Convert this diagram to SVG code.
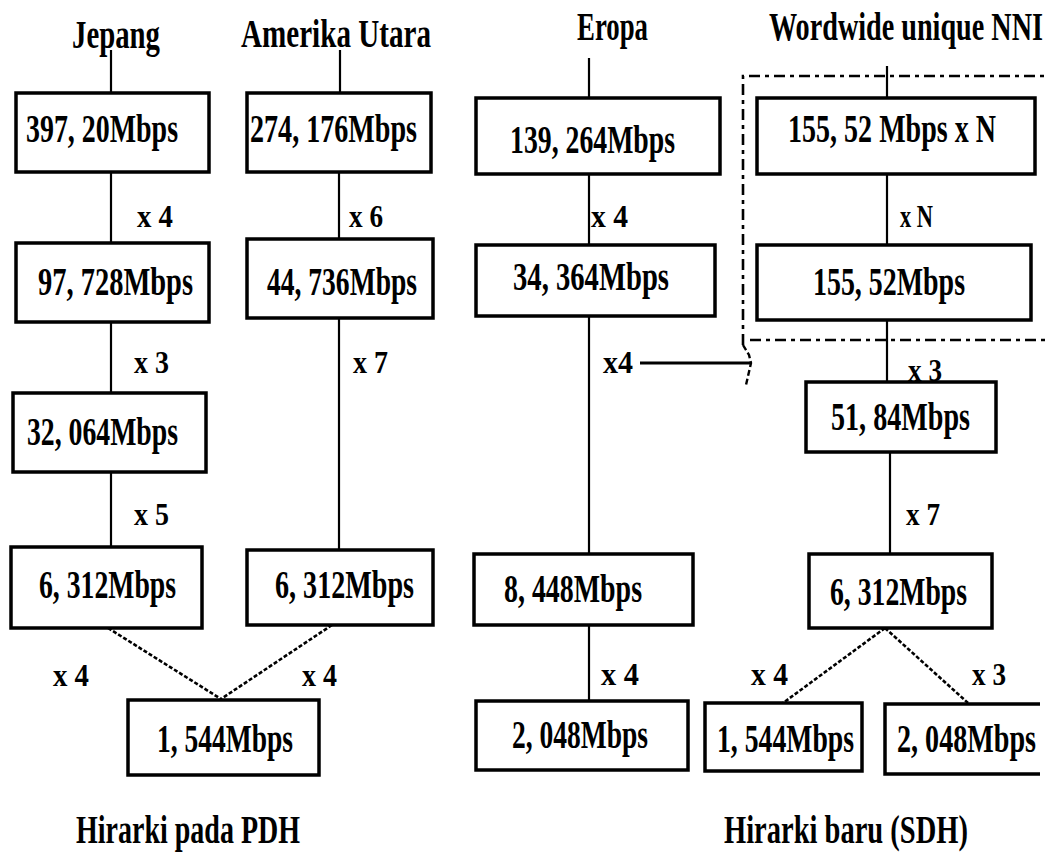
<svg xmlns="http://www.w3.org/2000/svg" width="1047" height="853" viewBox="0 0 1047 853">
<style>
.box{fill:#fff;stroke:#000;stroke-width:3.5}
.ln{stroke:#000;stroke-width:2.2;fill:none}
.dot{stroke:#000;stroke-width:2.6;fill:none;stroke-dasharray:4 2}
.dash{stroke:#000;stroke-width:2.6;fill:none;stroke-dasharray:11 5 4 5}
.t{font-family:"Liberation Serif",serif;font-weight:bold;font-size:41px;fill:#000}
.l{font-family:"Liberation Serif",serif;font-weight:bold;font-size:32px;fill:#000}
</style>
<rect width="1047" height="853" fill="#fff"/>
<g id="titles">
<text class="t" x="72" y="48" textLength="88" lengthAdjust="spacingAndGlyphs">Jepang</text>
<text class="t" x="241" y="47" textLength="190" lengthAdjust="spacingAndGlyphs">Amerika Utara</text>
<text class="t" x="577" y="40" textLength="71" lengthAdjust="spacingAndGlyphs">Eropa</text>
<text class="t" x="769" y="40" textLength="274" lengthAdjust="spacingAndGlyphs">Wordwide unique NNI</text>
<text class="t" x="76" y="843" font-size="39" textLength="224" lengthAdjust="spacingAndGlyphs">Hirarki pada PDH</text>
<text class="t" x="724" y="843" font-size="39" textLength="244" lengthAdjust="spacingAndGlyphs">Hirarki baru (SDH)</text>
</g>
<g id="connectors">
<line class="ln" x1="111" y1="50" x2="111" y2="93"/>
<line class="ln" x1="340" y1="50" x2="340" y2="93"/>
<line class="ln" x1="589" y1="58" x2="589" y2="98"/>
<line class="ln" x1="887" y1="66" x2="887" y2="98"/>
<line class="ln" x1="111" y1="172" x2="111" y2="243"/>
<line class="ln" x1="111" y1="322" x2="111" y2="393"/>
<line class="ln" x1="111" y1="472" x2="111" y2="547"/>
<line class="ln" x1="339" y1="172" x2="339" y2="239"/>
<line class="ln" x1="339" y1="318" x2="339" y2="550"/>
<line class="ln" x1="589" y1="174" x2="589" y2="245"/>
<line class="ln" x1="589" y1="316" x2="589" y2="554"/>
<line class="ln" x1="589" y1="625" x2="589" y2="701"/>
<line class="ln" x1="887" y1="174" x2="887" y2="245"/>
<line class="ln" x1="887" y1="320" x2="887" y2="382"/>
<line class="ln" x1="890" y1="452" x2="890" y2="554"/>
<line class="dot" x1="108" y1="628" x2="221" y2="699"/>
<line class="dot" x1="332" y1="625" x2="221" y2="699"/>
<line class="dot" x1="885" y1="628" x2="783" y2="703"/>
<line class="dot" x1="885" y1="628" x2="968" y2="703"/>
<line x1="640" y1="363" x2="750" y2="363" stroke="#000" stroke-width="3"/>
<path class="dash" d="M743,345 V76 H1047"/>
<path class="dash" d="M750,340 H1047"/>
<path d="M743,345 L749,355 L751,363 L746,385" stroke="#000" stroke-width="2.4" fill="none" stroke-dasharray="6 3"/>
<text class="l" x="137" y="227" textLength="36" lengthAdjust="spacingAndGlyphs">x 4</text>
<text class="l" x="349" y="227" textLength="34" lengthAdjust="spacingAndGlyphs">x 6</text>
<text class="l" x="134" y="373" textLength="35" lengthAdjust="spacingAndGlyphs">x 3</text>
<text class="l" x="353" y="373" textLength="35" lengthAdjust="spacingAndGlyphs">x 7</text>
<text class="l" x="134" y="525" textLength="35" lengthAdjust="spacingAndGlyphs">x 5</text>
<text class="l" x="53" y="686" textLength="36" lengthAdjust="spacingAndGlyphs">x 4</text>
<text class="l" x="302" y="686" textLength="35" lengthAdjust="spacingAndGlyphs">x 4</text>
<text class="l" x="591" y="227" textLength="37" lengthAdjust="spacingAndGlyphs">x 4</text>
<text class="l" x="603" y="373" textLength="30" lengthAdjust="spacingAndGlyphs">x4</text>
<text class="l" x="601" y="685" textLength="38" lengthAdjust="spacingAndGlyphs">x 4</text>
<text class="l" x="900" y="227" textLength="33" lengthAdjust="spacingAndGlyphs">x N</text>
<text class="l" x="908" y="381" textLength="34" lengthAdjust="spacingAndGlyphs">x 3</text>
<text class="l" x="906" y="525" textLength="34" lengthAdjust="spacingAndGlyphs">x 7</text>
<text class="l" x="751" y="685" textLength="37" lengthAdjust="spacingAndGlyphs">x 4</text>
<text class="l" x="972" y="685" textLength="34" lengthAdjust="spacingAndGlyphs">x 3</text>
</g>
<g id="n397"><rect class="box" x="16" y="93" width="193" height="79"/><text class="t" x="26" y="142" textLength="152" lengthAdjust="spacingAndGlyphs">397, 20Mbps</text></g>
<g id="n97"><rect class="box" x="16" y="243" width="193" height="79"/><text class="t" x="38" y="295" textLength="155" lengthAdjust="spacingAndGlyphs">97, 728Mbps</text></g>
<g id="n32"><rect class="box" x="13" y="393" width="193" height="79"/><text class="t" x="27" y="445" textLength="151" lengthAdjust="spacingAndGlyphs">32, 064Mbps</text></g>
<g id="n6a"><rect class="box" x="11" y="547" width="191" height="81"/><text class="t" x="39" y="598" textLength="137" lengthAdjust="spacingAndGlyphs">6, 312Mbps</text></g>
<g id="n274"><rect class="box" x="247" y="93" width="184" height="79"/><text class="t" x="250" y="142" textLength="167" lengthAdjust="spacingAndGlyphs">274, 176Mbps</text></g>
<g id="n44"><rect class="box" x="247" y="239" width="186" height="79"/><text class="t" x="267" y="295" textLength="150" lengthAdjust="spacingAndGlyphs">44, 736Mbps</text></g>
<g id="n6b"><rect class="box" x="247" y="550" width="186" height="75"/><text class="t" x="275" y="598" textLength="139" lengthAdjust="spacingAndGlyphs">6, 312Mbps</text></g>
<g id="n1a"><rect class="box" x="128" y="700" width="191" height="75"/><text class="t" x="157" y="752" textLength="136" lengthAdjust="spacingAndGlyphs">1, 544Mbps</text></g>
<g id="n139"><rect class="box" x="476" y="98" width="244" height="76"/><text class="t" x="510" y="153" textLength="165" lengthAdjust="spacingAndGlyphs">139, 264Mbps</text></g>
<g id="n34"><rect class="box" x="476" y="245" width="239" height="71"/><text class="t" x="513" y="290" textLength="156" lengthAdjust="spacingAndGlyphs">34, 364Mbps</text></g>
<g id="n8"><rect class="box" x="474" y="554" width="219" height="71"/><text class="t" x="504" y="602" textLength="138" lengthAdjust="spacingAndGlyphs">8, 448Mbps</text></g>
<g id="n2a"><rect class="box" x="476" y="701" width="212" height="69"/><text class="t" x="512" y="748" textLength="136" lengthAdjust="spacingAndGlyphs">2, 048Mbps</text></g>
<g id="n155n"><rect class="box" x="757" y="98" width="278" height="76"/><text class="t" x="788" y="142" textLength="208" lengthAdjust="spacingAndGlyphs">155, 52 Mbps x N</text></g>
<g id="n155"><rect class="box" x="757" y="245" width="274" height="75"/><text class="t" x="813" y="295" textLength="152" lengthAdjust="spacingAndGlyphs">155, 52Mbps</text></g>
<g id="n51"><rect class="box" x="806" y="382" width="190" height="70"/><text class="t" x="831" y="430" textLength="139" lengthAdjust="spacingAndGlyphs">51, 84Mbps</text></g>
<g id="n6c"><rect class="box" x="809" y="554" width="183" height="74"/><text class="t" x="830" y="605" textLength="137" lengthAdjust="spacingAndGlyphs">6, 312Mbps</text></g>
<g id="n1b"><rect class="box" x="705" y="703" width="157" height="68"/><text class="t" x="717" y="752" textLength="137" lengthAdjust="spacingAndGlyphs">1, 544Mbps</text></g>
<g id="n2b"><path d="M1040,704 H885 V774 H1040" fill="#fff" stroke="#000" stroke-width="3.5"/><text class="t" x="897" y="752" textLength="139" lengthAdjust="spacingAndGlyphs">2, 048Mbps</text></g>
</svg>
